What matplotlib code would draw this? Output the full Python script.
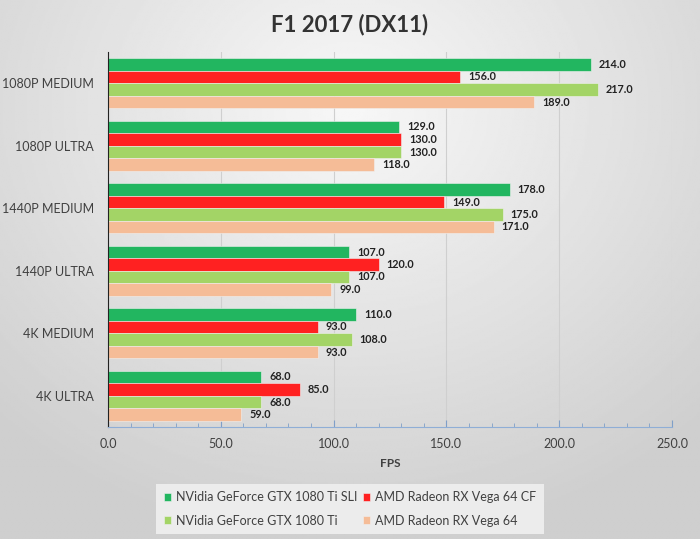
import numpy as np
import matplotlib
matplotlib.use("Agg")
import matplotlib.pyplot as plt
from matplotlib.ticker import MultipleLocator, FormatStrFormatter

plt.rcParams['font.family'] = ['Lato', 'DejaVu Sans']

settings = ["1080P MEDIUM", "1080P ULTRA", "1440P MEDIUM", "1440P ULTRA", "4K MEDIUM", "4K ULTRA"]
series = ["NVidia GeForce GTX 1080 Ti SLI", "AMD Radeon RX Vega 64 CF",
          "NVidia GeForce GTX 1080 Ti", "AMD Radeon RX Vega 64"]
gtx1080ti_sli = [214, 129, 178, 107, 110, 68]
vega64_cf = [156, 130, 149, 120, 93, 85]
gtx1080ti = [217, 130, 175, 107, 108, 68]
vega64 = [189, 118, 171, 99, 93, 59]
colors = ["#22B660", "#FF2121", "#A3D466", "#F5BC97"]

values = [gtx1080ti_sli, vega64_cf, gtx1080ti, vega64]

fig = plt.figure(figsize=(7, 5.39), dpi=100)

# gradient background
bg = fig.add_axes([0, 0, 1, 1], zorder=-10)
yy, xx = np.mgrid[-1:1:300j, -1:1:400j]
r = np.sqrt((xx * 0.9) ** 2 + ((yy + 0.6) * 0.8) ** 2)
shade = 0.97 - 0.16 * np.clip(r, 0, 1.3) / 1.3
bg.imshow(shade, cmap="gray", vmin=0, vmax=1, aspect="auto", extent=[0, 1, 0, 1])
bg.axis("off")

ax = fig.add_axes([108 / 700, 1 - 427 / 539, 564 / 700, 375 / 539])
ax.set_facecolor("none")

h = 0.2
y0 = np.arange(len(settings))
handles = []
for i, (vals, c, name) in enumerate(zip(values, colors, series)):
    ypos = y0 - 0.3 + i * h
    bars = ax.barh(ypos, vals, height=h, color=c, edgecolor="#f0f0f0", linewidth=0.4, label=name)
    handles.append(bars)
    for b, v in zip(bars, vals):
        ax.text(v + 3.5, b.get_y() + h / 2, f"{v:.1f}", va="center", ha="left",
                fontsize=7.8, fontweight="bold", color="#222222")

ax.set_ylim(len(settings) - 0.5, -0.5)
ax.set_yticks(y0)
ax.set_yticklabels(settings, fontsize=9, color="#404040")
ax.set_xlim(0, 250)
ax.xaxis.set_major_locator(MultipleLocator(50))
ax.xaxis.set_minor_locator(MultipleLocator(10))
ax.xaxis.set_major_formatter(FormatStrFormatter("%.1f"))
ax.tick_params(axis="x", which="major", direction="in", length=5, color="#7f9fc8",
               labelsize=9, labelcolor="#404040", pad=8)
ax.tick_params(axis="x", which="minor", direction="in", length=3, color="#7f9fc8")
ax.tick_params(axis="y", length=0, pad=10)
ax.grid(axis="x", color="#cfcfcf", linewidth=0.8)
ax.set_axisbelow(True)
for s in ["top", "right"]:
    ax.spines[s].set_visible(False)
ax.spines["left"].set_color("#222222")
ax.spines["bottom"].set_color("#8faed6")
ax.set_xlabel("FPS", fontsize=8.5, fontweight="bold", color="#404040", labelpad=6)

fig.text(0.5, 1 - 25 / 539, "F1 2017 (DX11)", ha="center", va="center",
         fontsize=16, fontweight="bold", color="#333333")

# row-major legend order like the original
order = [0, 2, 1, 3]
leg = ax.legend([handles[k] for k in order], [series[k] for k in order],
                loc="center", bbox_to_anchor=(350 / 700, 1 - 509 / 539),
                bbox_transform=fig.transFigure, ncol=2, fontsize=9,
                frameon=True, fancybox=False, handlelength=0.55, handleheight=0.55,
                handletextpad=0.45, columnspacing=0.4, labelspacing=0.9,
                borderpad=0.6)
leg.get_frame().set_facecolor("#ececec")
leg.get_frame().set_edgecolor("none")
leg.get_frame().set_alpha(1)
for t in leg.get_texts():
    t.set_color("#404040")

fig.savefig("out.png", dpi=100)
